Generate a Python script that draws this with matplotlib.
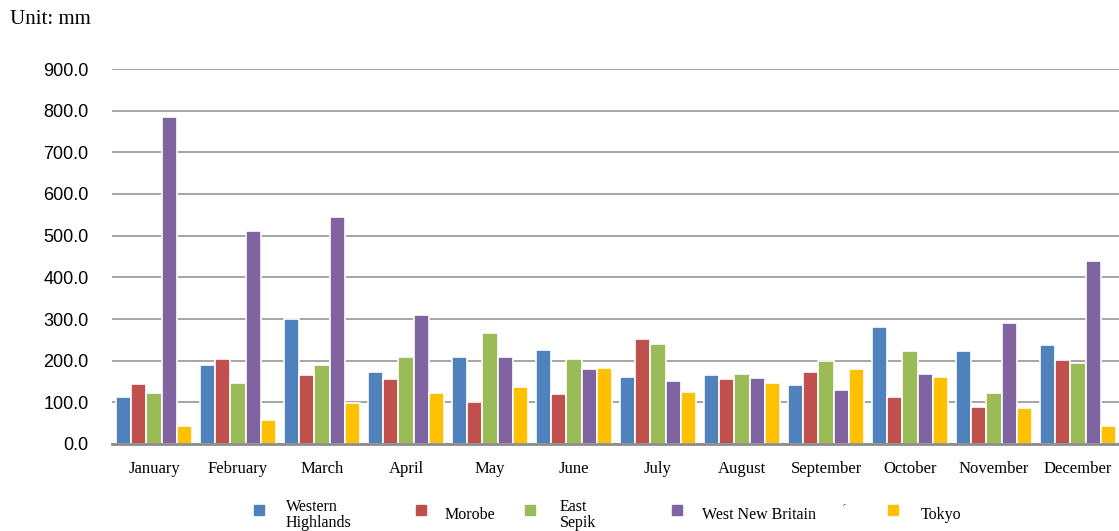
import numpy as np
import matplotlib
matplotlib.use('Agg')
import matplotlib.pyplot as plt
from matplotlib.patches import Rectangle

months = ['January', 'February', 'March', 'April', 'May', 'June', 'July',
          'August', 'September', 'October', 'November', 'December']
series_names = ['Western\nHighlands', 'Morobe', 'East\nSepik', 'West New Britain', 'Tokyo']

western_highlands = [112, 190, 299, 173, 209, 226, 162, 166, 141, 281, 223, 238]
morobe = [144, 205, 166, 155, 102, 119, 252, 155, 173, 112, 90, 202]
east_sepik = [122, 147, 190, 209, 266, 205, 241, 169, 199, 223, 123, 194]
west_new_britain = [784, 511, 546, 310, 209, 180, 151, 158, 130, 169, 291, 439]
tokyo = [44, 58, 98, 122, 136, 183, 126, 147, 180, 162, 86, 44]

COLORS = ['#4F81BD', '#C0504D', '#9BBB59', '#8064A2', '#FFC000']

values = [western_highlands, morobe, east_sepik, west_new_britain, tokyo]

fig = plt.figure(figsize=(11.19, 5.31), dpi=100)
ax = fig.add_axes([112 / 1119, 1 - 444 / 531, 1008 / 1119, 375 / 531])

x = np.arange(len(months))
pitch = 0.18
for i, (vals, color) in enumerate(zip(values, COLORS)):
    ax.bar(x + (i - 2) * pitch, vals, width=pitch, color=color,
           edgecolor='white', linewidth=1.2, zorder=3)

ax.set_xlim(-0.5, len(months) - 0.5)
ax.set_ylim(0, 900)
ax.set_yticks(np.arange(0, 901, 100))
ax.set_yticklabels([f'{v:.1f}' for v in np.arange(0, 901, 100)],
                   fontsize=13, family='Liberation Sans')
ax.set_xticks(x)
ax.set_xticklabels(months, fontsize=12, family='Liberation Serif')
ax.tick_params(axis='both', length=0)
ax.tick_params(axis='y', pad=17)
ax.tick_params(axis='x', pad=12.5)
ax.yaxis.grid(True, color='#969696', linewidth=1.2, zorder=0)
for s in ['top', 'right', 'left']:
    ax.spines[s].set_visible(False)
ax.spines['bottom'].set_color('#8c8c8c')
ax.spines['bottom'].set_linewidth(2)
ax.spines['bottom'].set_zorder(4)

fig.text(10 / 1119, 1 - 20 / 531, 'Unit: mm', fontsize=15, family='Liberation Serif',
         va='center', ha='left')

# legend drawn by hand to match the spacing of the original
marker_x = [254, 416, 525, 672, 888]
label_x = [286, 445, 560, 702, 921]
for mx, lx, name, color in zip(marker_x, label_x, series_names, COLORS):
    fig.patches.append(Rectangle((mx / 1119, 1 - 515 / 531), 10 / 1119, 10 / 531,
                                 transform=fig.transFigure, color=color))
    fig.text(lx / 1119, 1 - 515 / 531, name, fontsize=11.5, family='Liberation Serif',
             va='center', ha='left', linespacing=0.95)
fig.text(842 / 1119, 1 - 510 / 531, '\u00b4', fontsize=10, family='Liberation Serif',
         va='center', ha='left', color='#555555')

plt.savefig('out.png', dpi=100)
